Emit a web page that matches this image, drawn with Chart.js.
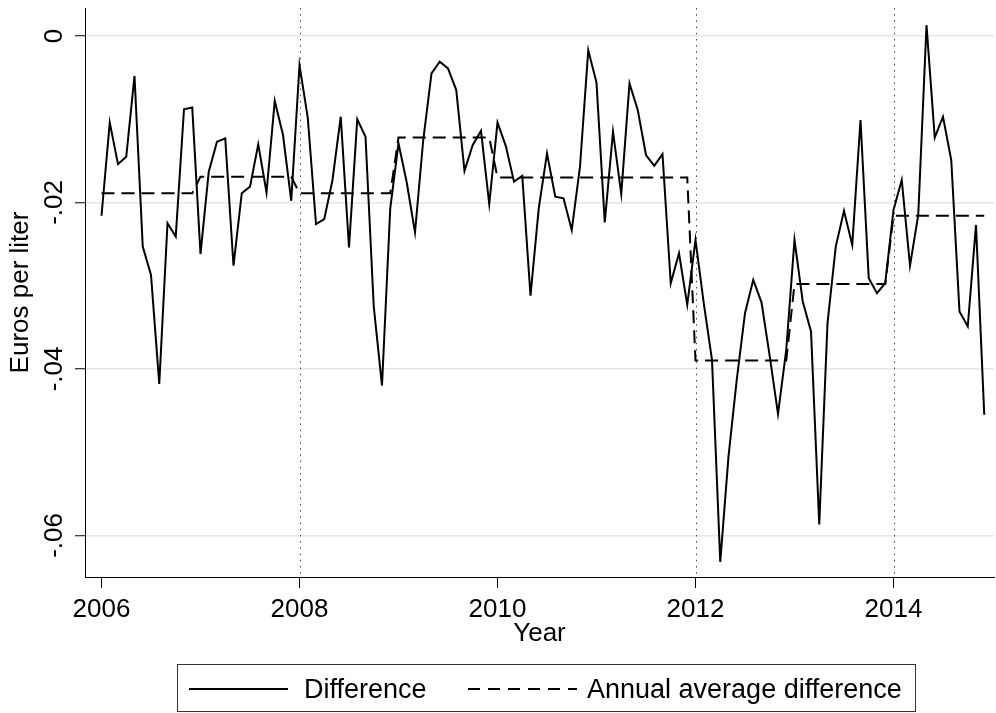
<!DOCTYPE html>
<html>
<head>
<meta charset="utf-8">
<script src="https://cdn.jsdelivr.net/npm/chart.js@4/dist/chart.umd.min.js"></script>
<style>
html,body{margin:0;padding:0;background:#fff;}
#wrap{width:996px;height:713px;}
</style>
</head>
<body>
<div id="wrap"><canvas id="c" width="996" height="713"></canvas></div>
<script>
// ---- data ----
const startYear = 2006;
const monthlyDifference = [
  -0.0216, -0.0104, -0.0154, -0.0145, -0.0048, -0.0253, -0.0287, -0.0418, -0.0225, -0.0241, -0.0088, -0.0086,
  -0.0262, -0.0163, -0.0127, -0.0123, -0.0276, -0.0189, -0.0181, -0.0130, -0.0188, -0.0078, -0.0119, -0.0198,
  -0.0035, -0.0098, -0.0226, -0.0220, -0.0173, -0.0097, -0.0254, -0.0100, -0.0121, -0.0325, -0.0420, -0.0207,
  -0.0129, -0.0176, -0.0236, -0.0125, -0.0045, -0.0031, -0.0039, -0.0065, -0.0162, -0.0131, -0.0114, -0.0202,
  -0.0104, -0.0132, -0.0175, -0.0168, -0.0312, -0.0207, -0.0141, -0.0193, -0.0195, -0.0233, -0.0157, -0.0017,
  -0.0056, -0.0224, -0.0115, -0.0190, -0.0057, -0.0089, -0.0143, -0.0156, -0.0142, -0.0297, -0.0261, -0.0323,
  -0.0245, -0.0321, -0.0389, -0.0632, -0.0505, -0.0413, -0.0333, -0.0293, -0.0320, -0.0385, -0.0454, -0.0377,
  -0.0245, -0.0319, -0.0355, -0.0587, -0.0345, -0.0253, -0.0210, -0.0251, -0.0101, -0.0291, -0.0309, -0.0297,
  -0.0209, -0.0173, -0.0276, -0.0215,  0.0013, -0.0122, -0.0097, -0.0149, -0.0331, -0.0349, -0.0227, -0.0455
];
const annualYears = [2006, 2007, 2008, 2009, 2010, 2011, 2012, 2013, 2014];
const annualAverage = [-0.0189, -0.0169, -0.0189, -0.0122, -0.0170, -0.0170, -0.0390, -0.0298, -0.0216];
const xTickValues = [2006, 2008, 2010, 2012, 2014];
const yTickValues = [0, -0.02, -0.04, -0.06];
const yTickLabels = ['0', '-.02', '-.04', '-.06'];
const referenceYears = [2008, 2012, 2014];
const seriesLabels = ['Difference', 'Annual average difference'];
const xTitle = 'Year';
const yTitle = 'Euros per liter';

// ---- build datasets ----
const diffPoints = monthlyDifference.map((v, i) => ({ x: startYear + i / 12, y: v }));
const avgPoints = monthlyDifference.map((v, i) => {
  const yr = startYear + Math.floor(i / 12);
  return { x: startYear + i / 12, y: annualAverage[annualYears.indexOf(yr)] };
});

const FONT = "'Liberation Sans', Arial, Helvetica, sans-serif";
const FS = 26;

const refLinesPlugin = {
  id: 'refLines',
  beforeDatasetsDraw(chart) {
    const { ctx, chartArea, scales } = chart;
    ctx.save();
    ctx.strokeStyle = '#444';
    ctx.lineWidth = 1;
    ctx.setLineDash([1.5, 4.7]);
    referenceYears.forEach(yr => {
      const px = Math.round(scales.x.getPixelForValue(yr)) + 0.5;
      ctx.beginPath();
      ctx.moveTo(px, chartArea.top);
      ctx.lineTo(px, chartArea.bottom);
      ctx.stroke();
    });
    ctx.restore();
  }
};

const yLabelsPlugin = {
  id: 'yLabels',
  afterDraw(chart) {
    const { ctx, scales } = chart;
    ctx.save();
    ctx.fillStyle = '#000';
    ctx.font = FS + 'px ' + FONT;
    ctx.textAlign = 'center';
    ctx.textBaseline = 'middle';
    yTickValues.forEach((v, i) => {
      const py = scales.y.getPixelForValue(v);
      ctx.save();
      ctx.translate(55, py);
      ctx.rotate(-Math.PI / 2);
      ctx.fillText(yTickLabels[i], 0, 0);
      ctx.restore();
    });
    ctx.restore();
  }
};

const legendPlugin = {
  id: 'boxLegend',
  afterDraw(chart) {
    const { ctx } = chart;
    ctx.save();
    ctx.strokeStyle = '#333';
    ctx.lineWidth = 1;
    ctx.strokeRect(177.5, 664.5, 738, 47);
    const ly = 689;
    ctx.strokeStyle = '#000';
    ctx.lineWidth = 2;
    ctx.setLineDash([]);
    ctx.beginPath(); ctx.moveTo(189, ly); ctx.lineTo(288, ly); ctx.stroke();
    ctx.setLineDash([12, 8]);
    ctx.beginPath(); ctx.moveTo(468, ly); ctx.lineTo(577, ly); ctx.stroke();
    ctx.setLineDash([]);
    ctx.fillStyle = '#000';
    ctx.font = '27px ' + FONT;
    ctx.textAlign = 'left';
    ctx.textBaseline = 'middle';
    ctx.fillText(seriesLabels[0], 304, 691);
    ctx.fillText(seriesLabels[1], 587, 691);
    ctx.restore();
  }
};

new Chart(document.getElementById('c'), {
  type: 'line',
  data: {
    datasets: [
      {
        label: seriesLabels[0],
        data: diffPoints,
        borderColor: '#000',
        borderWidth: 2,
        pointRadius: 0,
        tension: 0,
        fill: false
      },
      {
        label: seriesLabels[1],
        data: avgPoints,
        borderColor: '#000',
        borderWidth: 2,
        borderDash: [13, 7],
        pointRadius: 0,
        tension: 0,
        fill: false
      }
    ]
  },
  options: {
    responsive: false,
    animation: false,
    devicePixelRatio: 1,
    layout: { padding: { left: 0, right: 2, top: 8, bottom: 64 } },
    plugins: {
      legend: { display: false },
      tooltip: { enabled: false },
      title: { display: false }
    },
    scales: {
      x: {
        type: 'linear',
        position: 'bottom',
        min: 2006 - 16.5 / 99,
        max: 2006 + (994 - 101.5) / 99,
        afterBuildTicks(scale) { scale.ticks = xTickValues.map(v => ({ value: v })); },
        afterFit(scale) { scale.height = 72; },
        ticks: {
          color: '#000',
          font: { family: FONT, size: FS },
          padding: 6,
          maxRotation: 0,
          autoSkip: false,
          callback: v => String(v)
        },
        grid: {
          display: true,
          drawOnChartArea: false,
          drawTicks: true,
          tickLength: 11,
          tickColor: '#000',
          tickWidth: 1
        },
        border: { display: true, color: '#000', width: 1 },
        title: {
          display: true,
          text: xTitle,
          color: '#000',
          font: { family: FONT, size: FS },
          padding: { top: 0, bottom: 0 }
        }
      },
      y: {
        type: 'linear',
        position: 'left',
        min: -0.065,
        max: 28 / 8325,
        afterBuildTicks(scale) { scale.ticks = yTickValues.map(v => ({ value: v })); },
        afterFit(scale) { scale.width = 85; },
        ticks: { display: false },
        grid: {
          display: true,
          drawOnChartArea: true,
          color: '#e6e6e6',
          lineWidth: 1.5,
          drawTicks: true,
          tickLength: 10,
          tickColor: '#000',
          tickWidth: 1
        },
        border: { display: true, color: '#000', width: 1 },
        title: {
          display: true,
          text: yTitle,
          color: '#000',
          font: { family: FONT, size: FS },
          padding: { top: 5, bottom: 0 }
        }
      }
    }
  },
  plugins: [refLinesPlugin, yLabelsPlugin, legendPlugin]
});
</script>
</body>
</html>
